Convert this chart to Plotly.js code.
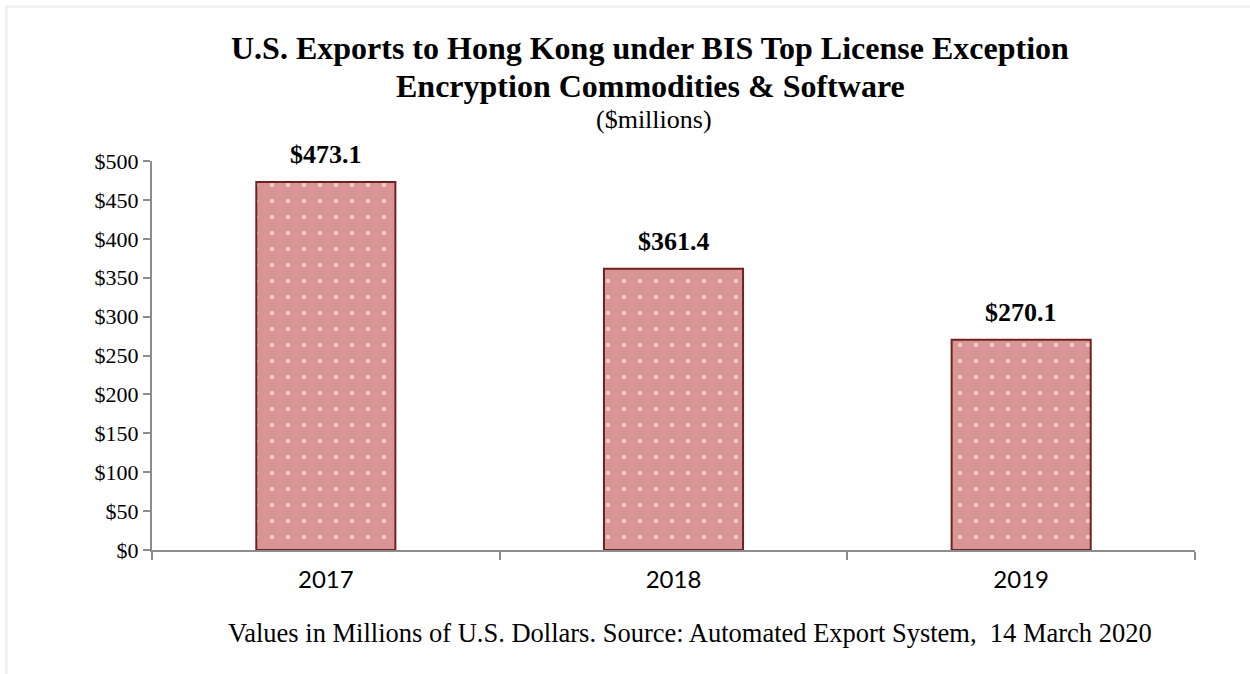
<!DOCTYPE html>
<html>
<head>
<meta charset="utf-8">
<script src="https://cdn.plot.ly/plotly-3.0.1.min.js"></script>
<style>
html,body{margin:0;padding:0;background:#fff;}
#frame{position:absolute;left:5px;top:5px;width:1245px;height:669px;border-top:3px solid #f1f1f1;border-left:3px solid #f1f1f1;box-sizing:border-box;pointer-events:none;z-index:5;}
#chart{width:1250px;height:674px;}
</style>
</head>
<body>
<div id="frame"></div>
<div id="chart"></div>
<script>
const years = ['2017', '2018', '2019'];
const values = [473.1, 361.4, 270.1];
const valueLabels = ['$473.1', '$361.4', '$270.1'];
const yTickVals = [0, 50, 100, 150, 200, 250, 300, 350, 400, 450, 500];
const yTickText = ['$0', '$50', '$100', '$150', '$200', '$250', '$300', '$350', '$400', '$450', '$500'];

const serif = '"Liberation Serif", "Times New Roman", serif';
const axisColor = '#8c8c8c';

const trace = {
  type: 'bar',
  x: years,
  y: values,
  width: 0.4,
  marker: {
    color: '#D99594',
    line: {color: '#6f2222', width: 2},
    pattern: {shape: '.', fgcolor: '#ffffff', bgcolor: '#D99594', size: 16, solidity: 0.06, fillmode: 'overlay'}
  },
  hoverinfo: 'skip'
};

const annotations = years.map((yr, i) => ({
  x: i, y: values[i], xref: 'x', yref: 'y',
  text: '<b>' + valueLabels[i] + '</b>',
  showarrow: false, yanchor: 'middle', yshift: 27,
  font: {family: serif, size: 26, color: '#000'}
}));

const titleX = (650 - 152) / 1043;
annotations.push(
  {xref: 'paper', yref: 'paper', x: titleX, y: (550 - 48) / 389, text: '<b>U.S. Exports to Hong Kong under BIS Top License Exception</b>',
   showarrow: false, xanchor: 'center', yanchor: 'middle', font: {family: serif, size: 32, color: '#000'}},
  {xref: 'paper', yref: 'paper', x: titleX, y: (550 - 86) / 389, text: '<b>Encryption Commodities &amp; Software</b>',
   showarrow: false, xanchor: 'center', yanchor: 'middle', font: {family: serif, size: 32, color: '#000'}},
  {xref: 'paper', yref: 'paper', x: (654 - 152) / 1043, y: (550 - 119) / 389, text: '($millions)',
   showarrow: false, xanchor: 'center', yanchor: 'middle', font: {family: serif, size: 26, color: '#000'}},
  {xref: 'paper', yref: 'paper', x: (690 - 152) / 1043, y: (550 - 633) / 389, text: 'Values in Millions of U.S. Dollars. Source: Automated Export System,  14 March 2020',
   showarrow: false, xanchor: 'center', yanchor: 'middle', font: {family: serif, size: 26.5, color: '#000'}}
);

const layout = {
  width: 1250, height: 674,
  margin: {l: 152, r: 55, t: 161, b: 124},
  paper_bgcolor: '#ffffff', plot_bgcolor: '#ffffff',
  showlegend: false,
  xaxis: {
    type: 'category',
    tickson: 'boundaries',
    ticks: 'outside', ticklen: 8, tickwidth: 2, tickcolor: axisColor,
    showline: true, linecolor: axisColor, linewidth: 2,
    showgrid: false, zeroline: false,
    tickangle: 0,
    ticklabelstandoff: 7,
    tickfont: {family: 'Lato, "Open Sans", sans-serif', size: 24, color: '#000'}
  },
  yaxis: {
    range: [0, 500],
    tickvals: yTickVals, ticktext: yTickText,
    ticks: 'outside', ticklen: 7, tickwidth: 2, tickcolor: axisColor,
    showline: true, linecolor: axisColor, linewidth: 2,
    showgrid: false, zeroline: false,
    tickfont: {family: serif, size: 22, color: '#000'}
  },
  annotations: annotations
};

Plotly.newPlot('chart', [trace], layout, {displayModeBar: false, staticPlot: true});
</script>
</body>
</html>
